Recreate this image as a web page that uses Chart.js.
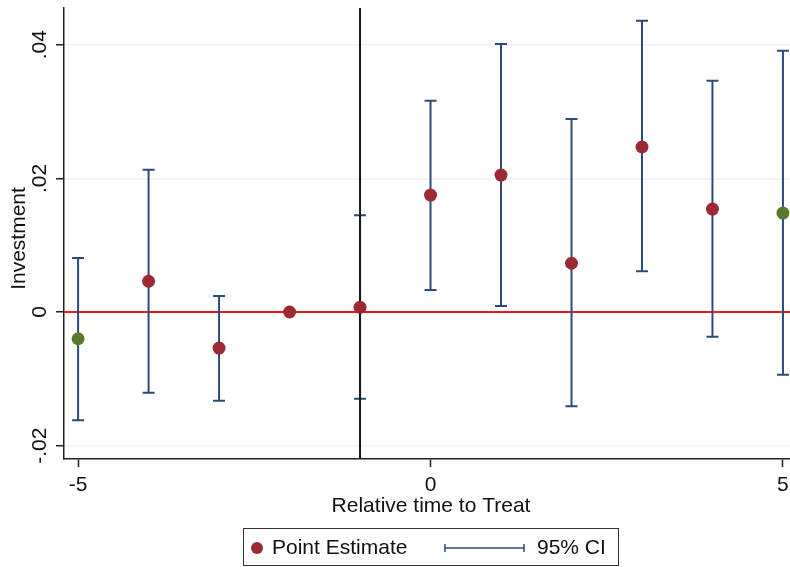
<!DOCTYPE html>
<html>
<head>
<meta charset="utf-8">
<title>Event study - Investment</title>
<script src="https://cdn.jsdelivr.net/npm/chart.js@4"></script>
<style>
  html, body { margin: 0; padding: 0; background: #fff; }
  #wrap { position: relative; width: 790px; height: 567px; }
</style>
</head>
<body>
<div id="wrap"><canvas id="chart" width="790" height="567"></canvas></div>
<script>
// ---- Data ----
const periods   = [-5, -4, -3, -2, -1, 0, 1, 2, 3, 4, 5];
const estimates = [-0.0040, 0.0046, -0.0054, 0.0000, 0.0007, 0.0175, 0.0205, 0.0073, 0.0247, 0.0154, 0.0148];
const ciLower   = [-0.0162, -0.0121, -0.0133, null, -0.0130, 0.0033, 0.0009, -0.0141, 0.0061, -0.0037, -0.0094];
const ciUpper   = [0.0081, 0.0213, 0.0024, null, 0.0145, 0.0316, 0.0401, 0.0289, 0.0436, 0.0346, 0.0391];
const endpointPeriods = [-5, 5];           // drawn in green
const xTicks = [-5, 0, 5];
const xTickLabels = ['-5', '0', '5'];
const yTicks = [-0.02, 0, 0.02, 0.04];
const yTickLabels = ['-.02', '0', '.02', '.04'];
const eventLine = -1;                      // vertical reference
const zeroLine = 0;                        // horizontal reference

(function () {
  'use strict';

  const FONT = '"Liberation Sans", Arial, Helvetica, sans-serif';
  const FS = 21;
  const colors = {
    est: '#9c2a35',
    end: '#5a7a2b',
    ci: '#2d4a7d',
    zero: '#f3161b',
    vline: '#1a1a1a',
    grid: '#eef2f7',
    axis: '#222'
  };

  const points = periods.map((p, i) => ({ x: p, y: estimates[i] }));
  const pointColors = periods.map(p => endpointPeriods.includes(p) ? colors.end : colors.est);

  // ---- Reference lines + error bars + custom text ----
  const overlay = {
    id: 'overlay',
    beforeDatasetsDraw(chart) {
      const { ctx, chartArea: a, scales: { x, y } } = chart;
      ctx.save();
      ctx.beginPath();
      ctx.rect(a.left, a.top, a.right - a.left, a.bottom - a.top);
      ctx.clip();

      // zero line
      const y0 = y.getPixelForValue(zeroLine);
      ctx.strokeStyle = colors.zero;
      ctx.lineWidth = 2;
      ctx.beginPath();
      ctx.moveTo(a.left, y0);
      ctx.lineTo(a.right, y0);
      ctx.stroke();

      // confidence intervals
      ctx.strokeStyle = colors.ci;
      ctx.lineWidth = 2;
      const cap = 6;
      periods.forEach((p, i) => {
        if (ciLower[i] == null) return;
        const px = x.getPixelForValue(p);
        const lo = y.getPixelForValue(ciLower[i]);
        const hi = y.getPixelForValue(ciUpper[i]);
        ctx.beginPath();
        ctx.moveTo(px, lo); ctx.lineTo(px, hi);
        ctx.moveTo(px - cap, lo); ctx.lineTo(px + cap, lo);
        ctx.moveTo(px - cap, hi); ctx.lineTo(px + cap, hi);
        ctx.stroke();
      });

      // event line
      const xv = x.getPixelForValue(eventLine);
      ctx.strokeStyle = colors.vline;
      ctx.lineWidth = 2;
      ctx.beginPath();
      ctx.moveTo(xv, a.top);
      ctx.lineTo(xv, a.bottom);
      ctx.stroke();
      ctx.restore();
    },
    afterDraw(chart) {
      const { ctx, chartArea: a, scales: { x, y } } = chart;
      ctx.save();
      ctx.fillStyle = '#111';
      ctx.font = FS + 'px ' + FONT;
      ctx.textAlign = 'center';
      ctx.textBaseline = 'middle';

      // rotated y tick labels
      yTicks.forEach((v, i) => {
        const py = y.getPixelForValue(v);
        ctx.save();
        ctx.translate(40, py);
        ctx.rotate(-Math.PI / 2);
        ctx.fillText(yTickLabels[i], 0, 0);
        ctx.restore();
      });

      // x tick labels
      xTicks.forEach((v, i) => {
        ctx.fillText(xTickLabels[i], x.getPixelForValue(v), 485);
      });

      // axis titles
      ctx.save();
      ctx.translate(19, (a.top + a.bottom) / 2 + 5);
      ctx.rotate(-Math.PI / 2);
      ctx.fillText('Investment', 0, 0);
      ctx.restore();
      ctx.fillText('Relative time to Treat', (a.left + a.right) / 2 + 4, 506);

      // legend box
      ctx.strokeStyle = '#333';
      ctx.lineWidth = 1;
      ctx.strokeRect(243.5, 528.5, 375, 37);
      const ly = 548;
      ctx.fillStyle = colors.est;
      ctx.beginPath();
      ctx.arc(257, ly, 6, 0, Math.PI * 2);
      ctx.fill();
      ctx.fillStyle = '#111';
      ctx.textAlign = 'left';
      ctx.fillText('Point Estimate', 272, ly);
      ctx.strokeStyle = colors.ci;
      ctx.lineWidth = 1.5;
      ctx.beginPath();
      ctx.moveTo(445, ly); ctx.lineTo(524, ly);
      ctx.moveTo(445, ly - 4); ctx.lineTo(445, ly + 4);
      ctx.moveTo(524, ly - 4); ctx.lineTo(524, ly + 4);
      ctx.stroke();
      ctx.fillText('95% CI', 537, ly);
      ctx.restore();
    }
  };

  new Chart(document.getElementById('chart'), {
    type: 'scatter',
    data: {
      datasets: [{
        label: 'Point Estimate',
        data: points,
        pointBackgroundColor: pointColors,
        pointBorderColor: pointColors,
        pointRadius: 6.5,
        pointBorderWidth: 0,
        showLine: false
      }]
    },
    options: {
      responsive: false,
      animation: false,
      layout: { autoPadding: false, padding: { top: 8, right: 0, bottom: 0, left: 0 } },
      plugins: { legend: { display: false }, tooltip: { enabled: false } },
      scales: {
        x: {
          type: 'linear',
          min: -5.2,
          max: 5.1,
          afterBuildTicks: s => { s.ticks = xTicks.map(v => ({ value: v })); },
          afterFit: s => { s.height = 108; },
          grid: { drawOnChartArea: false, drawTicks: true, tickLength: 8, tickColor: colors.axis, tickWidth: 1.5 },
          border: { display: true, color: colors.axis, width: 1.5 },
          ticks: { display: false }
        },
        y: {
          min: -0.022,
          max: 0.0455,
          afterBuildTicks: s => { s.ticks = yTicks.map(v => ({ value: v })); },
          afterFit: s => { s.width = 64; },
          grid: { color: colors.grid, lineWidth: 1.5, drawTicks: true, tickLength: 8, tickColor: colors.axis, tickWidth: 1.5 },
          border: { display: true, color: colors.axis, width: 1.5 },
          ticks: { display: false }
        }
      }
    },
    plugins: [overlay]
  });
})();
</script>
</body>
</html>
